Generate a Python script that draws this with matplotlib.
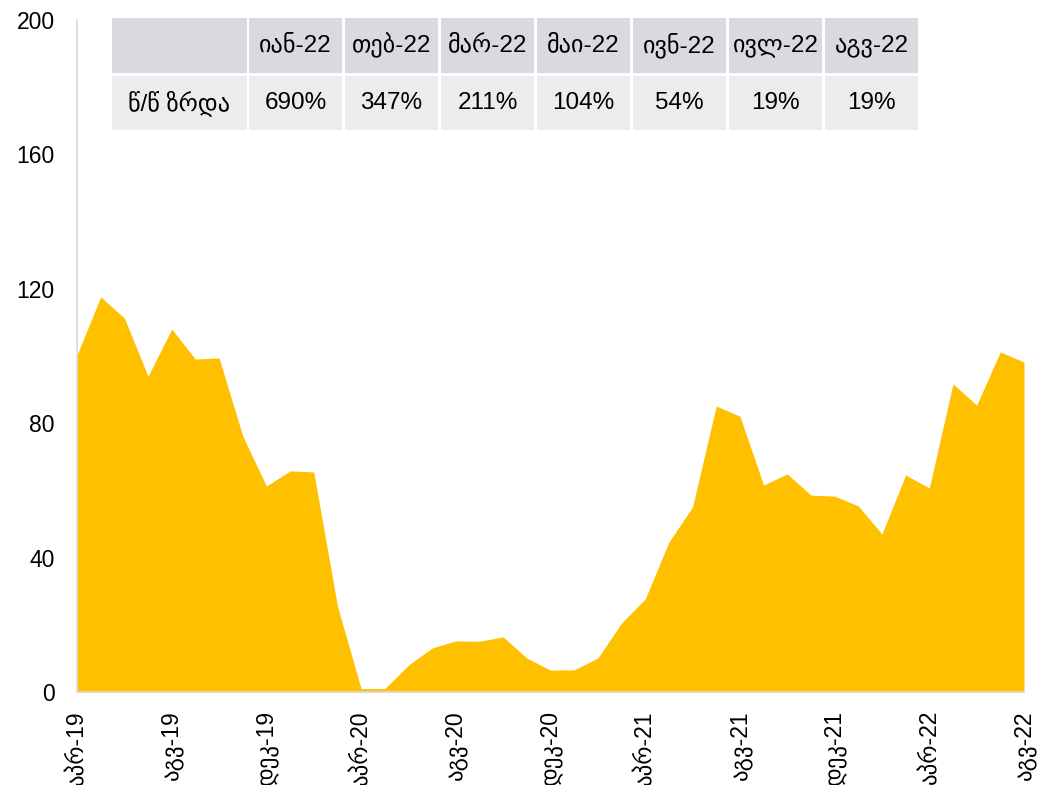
import matplotlib
matplotlib.use("Agg")
import matplotlib.pyplot as plt
from matplotlib.patches import Rectangle

plt.rcParams['font.family'] = ['Liberation Sans', 'DejaVu Sans']

# მონაცემები: აპრ-19 ... აგვ-22, თვიური
valores = [100.3, 117.6, 111.3, 94.0, 108.0, 99.1, 99.4, 76.2, 61.3, 65.8,
           65.5, 25.6, 1.0, 1.0, 8.0, 13.1, 15.2, 15.1, 16.4, 10.1,
           6.5, 6.6, 10.1, 20.5, 27.7, 44.6, 55.1, 85.1, 82.1, 61.6,
           64.9, 58.6, 58.3, 55.4, 47.0, 64.6, 60.7, 91.7, 85.4, 101.2,
           98.2]
rotulos_x = ['აპრ-19', 'აგვ-19', 'დეკ-19', 'აპრ-20', 'აგვ-20', 'დეკ-20',
             'აპრ-21', 'აგვ-21', 'დეკ-21', 'აპრ-22', 'აგვ-22']
yticks = [0, 40, 80, 120, 160, 200]

# ცხრილი
meses_tabela = ['იან-22', 'თებ-22', 'მარ-22', 'მაი-22', 'ივნ-22', 'ივლ-22', 'აგვ-22']
crescimento = ['690%', '347%', '211%', '104%', '54%', '19%', '19%']
rotulo_linha = 'წ/წ ზრდა'

fig = plt.figure(figsize=(10.43, 7.85), dpi=100)
ax = fig.add_axes([77 / 1043, 93 / 785, 947 / 1043, 672 / 785])

x = list(range(len(valores)))
ax.fill_between(x, valores, 0, color='#FFC000', linewidth=0)
ax.set_xlim(0, len(valores) - 1)
ax.set_ylim(0, 200)
ax.set_yticks(yticks)
ax.set_xticks(x[::4])
ax.set_xticklabels(rotulos_x, rotation=90)
ax.tick_params(axis='both', length=0, labelsize=16.5)
ax.tick_params(axis='y', pad=16)
ax.tick_params(axis='x', pad=13)
for s in ['top', 'right']:
    ax.spines[s].set_visible(False)
for s in ['left', 'bottom']:
    ax.spines[s].set_color('#d9d9d9')
    ax.spines[s].set_linewidth(1.2)

# desenhar tabela em pixels da figura
W, H = 1043, 785
def px(xp, yp):
    return xp / W, 1 - yp / H

larguras = [135] + [93] * len(meses_tabela)
inicios = [112] + [249 + 96 * i for i in range(len(meses_tabela))]
linhas = [(18, 55, '#dad9df', [''] + meses_tabela),
          (76, 54, '#ececee', [rotulo_linha] + crescimento)]
for top, h, cor, textos in linhas:
    for x0, w, t in zip(inicios, larguras, textos):
        fx, fy = px(x0, top + h)
        fig.patches.append(Rectangle((fx, fy), w / W, h / H, transform=fig.transFigure,
                                     facecolor=cor, edgecolor='none', zorder=5))
        cx, cy = px(x0 + w / 2, top + h / 2)
        fig.text(cx, cy, t, ha='center', va='center', fontsize=17.5, zorder=6)

fig.savefig('out.png', dpi=100)
